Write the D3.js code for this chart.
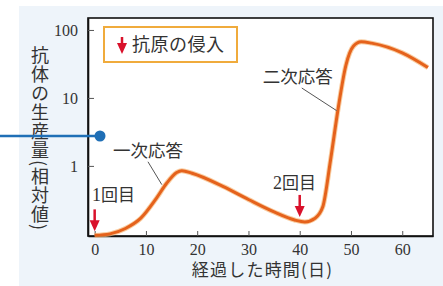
<!DOCTYPE html>
<html>
<head>
<meta charset="utf-8">
<script src="https://cdn.jsdelivr.net/npm/d3@7"></script>
<style>
  html, body { margin: 0; padding: 0; background: #fff; }
  svg { display: block; }
</style>
</head>
<body>
<div id="chart"></div>
<script>
// days after first antigen exposure and relative antibody production
var days   = [0, 3, 6, 9, 12, 14, 16, 17, 19, 25, 30, 35, 39, 41, 43, 44.5, 46, 47.5, 49, 50.5, 52, 54, 60, 65];
var values = [0.095, 0.1, 0.12, 0.17, 0.33, 0.55, 0.8, 0.85, 0.78, 0.5, 0.32, 0.21, 0.16, 0.15, 0.17, 0.25, 1.2, 7, 30, 58, 67, 64, 46, 28];

var xTicks = [0, 10, 20, 30, 40, 50, 60];
var yTicks = [1, 10, 100];

var antigenDays = [0, 40];
var antigenLevel = [0.095, 0.155];
var antigenNums = ["1", "2"];
// label anchors in data units [day, value]
var antigenLabelPos = [[-0.5, 0.3], [34.8, 0.46]];

var responseLabels = ["一次応答", "二次応答"];
var responseLabelPos = [[3.6, 1.36], [32.8, 16.6]];
var leaderFrom = [[10.4, 1.15], [40.4, 14]];
var leaderTo   = [[13.1, 0.53], [47.2, 6.5]];

var legendText = "抗原の侵入";
var xTitle = "経過した時間(日)";
var yTitle = "抗体の生産量(相対値)";

function drawChart() {
    var W = 443, H = 286;
    var mLeft = 88, mRight = 433, mTop = 18, mBottom = 236;
    var jp = "'Noto Sans CJK JP', 'Noto Sans', sans-serif";
    var serif = "'Liberation Serif', 'Times New Roman', Tinos, 'DejaVu Serif', 'Noto Serif', serif";
    var red = "#d9112b", orange = "#e5621c", ink = "#333";

    var svg = d3.select("#chart").append("svg")
        .attr("width", W).attr("height", H);

    // light blue panel behind the chart
    svg.append("rect").attr("x", 19).attr("y", 6)
        .attr("width", W - 19).attr("height", H - 6)
        .attr("fill", "#eef4fa");

    var x = d3.scaleLinear().domain([-1.3, 66]).range([mLeft, mRight]);
    var y = d3.scaleLog().domain([0.093, 150]).range([mBottom, mTop]);

    svg.append("rect").attr("x", mLeft).attr("y", mTop)
        .attr("width", mRight - mLeft).attr("height", mBottom - mTop)
        .attr("fill", "#fff").attr("stroke", "#111").attr("stroke-width", 1.6);

    // axes with inner ticks
    var xAxis = svg.append("g").attr("transform", "translate(0," + mBottom + ")")
        .call(d3.axisBottom(x).tickValues(xTicks).tickSizeInner(-5).tickSizeOuter(0).tickPadding(9));
    var yAxis = svg.append("g").attr("transform", "translate(" + mLeft + ",0)")
        .call(d3.axisLeft(y).tickValues(yTicks).tickFormat(d3.format("d")).tickSizeInner(-6).tickSizeOuter(0).tickPadding(10));

    [xAxis, yAxis].forEach(function (a) {
        a.attr("font-family", serif).attr("font-size", 16);
        a.select(".domain").attr("stroke", "#111").attr("stroke-width", 1.6);
        a.selectAll(".tick line").attr("stroke", "#555").attr("stroke-width", 1);
        a.selectAll(".tick text").attr("fill", ink).style("font-family", serif);
    });
    xAxis.selectAll(".tick text").attr("dy", "0.6em");
    yAxis.selectAll(".tick text").attr("dy", "0.32em");

    // antibody curve
    var line = d3.line()
        .x(function (d, i) { return x(days[i]); })
        .y(function (d) { return y(d); })
        .curve(d3.curveMonotoneX);

    svg.append("path").datum(values)
        .attr("d", line).attr("fill", "none")
        .attr("stroke", "#f7b778").attr("stroke-width", 5).attr("stroke-opacity", 0.7)
        .attr("stroke-linejoin", "round");
    svg.append("path").datum(values)
        .attr("d", line).attr("fill", "none")
        .attr("stroke", orange).attr("stroke-width", 3)
        .attr("stroke-linejoin", "round");

    // red arrow helper
    function arrow(cx, tipY, len) {
        var g = svg.append("g");
        g.append("line").attr("x1", cx).attr("x2", cx)
            .attr("y1", tipY - len).attr("y2", tipY - 8)
            .attr("stroke", red).attr("stroke-width", 2.5);
        g.append("path")
            .attr("d", "M" + (cx - 5) + "," + (tipY - 11) + "L" + (cx + 5) + "," + (tipY - 11) + "L" + cx + "," + tipY + "Z")
            .attr("fill", red);
    }

    antigenDays.forEach(function (d, i) {
        arrow(x(d), y(antigenLevel[i]) - 4, 22);
    });

    var al = svg.selectAll(".alabel").data(antigenNums).enter().append("text")
        .attr("x", function (d, i) { return x(antigenLabelPos[i][0]); })
        .attr("y", function (d, i) { return y(antigenLabelPos[i][1]); })
        .attr("fill", ink).style("font-size", "17px");
    al.append("tspan").style("font-family", serif).style("font-size", "18px")
        .text(function (d) { return d; });
    al.append("tspan").style("font-family", jp).text("回目");

    // response labels with leader lines
    svg.selectAll(".leader").data(leaderFrom).enter().append("line")
        .attr("x1", function (d) { return x(d[0]); })
        .attr("y1", function (d) { return y(d[1]); })
        .attr("x2", function (d, i) { return x(leaderTo[i][0]); })
        .attr("y2", function (d, i) { return y(leaderTo[i][1]); })
        .attr("stroke", "#555").attr("stroke-width", 1);

    svg.selectAll(".rlabel").data(responseLabels).enter().append("text")
        .attr("x", function (d, i) { return x(responseLabelPos[i][0]); })
        .attr("y", function (d, i) { return y(responseLabelPos[i][1]); })
        .attr("fill", ink).style("font-family", jp).style("font-size", "17.5px")
        .text(function (d) { return d; });

    // legend box
    svg.append("rect").attr("x", 104).attr("y", 27).attr("width", 133).attr("height", 35)
        .attr("fill", "#fff").attr("stroke", "#f0ab3c").attr("stroke-width", 2);
    arrow(122, 54, 17);
    svg.append("text").attr("x", 132).attr("y", 51)
        .attr("fill", ink).style("font-family", jp).style("font-size", "18px")
        .style("letter-spacing", "0.5px")
        .text(legendText);

    // axis titles
    svg.append("text").attr("x", (mLeft + mRight) / 2 + 2).attr("y", 276)
        .attr("text-anchor", "middle").attr("fill", ink)
        .style("font-family", jp).style("font-size", "17px")
        .style("letter-spacing", "1.2px")
        .text(xTitle);

    svg.append("text").attr("x", 40).attr("y", 46)
        .attr("fill", ink).style("font-family", jp).style("font-size", "18px")
        .style("writing-mode", "vertical-rl").style("letter-spacing", "1px")
        .text(yTitle);

    // blue pointer line over the label
    svg.append("line").attr("x1", 0).attr("x2", 100).attr("y1", 136).attr("y2", 136)
        .attr("stroke", "#1f6fb6").attr("stroke-width", 2.5);
    svg.append("circle").attr("cx", 100).attr("cy", 136).attr("r", 5.5)
        .attr("fill", "#1f6fb6");
}

drawChart();
</script>
</body>
</html>
